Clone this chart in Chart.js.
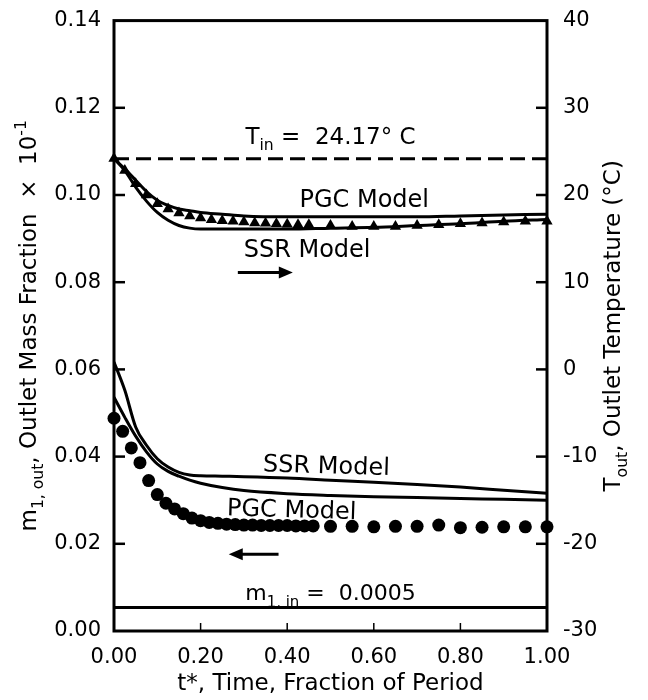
<!DOCTYPE html>
<html lang="en">
<head>
    <meta charset="UTF-8">
    <title>Outlet Mass Fraction and Temperature</title>
    <script src="https://cdn.jsdelivr.net/npm/chart.js"></script>
    <style>
        body {
            margin: 0;
            background-color: #fff;
        }
        #chartBox {
            width: 648px;
            height: 700px;
        }
    </style>
</head>
<body>
    <div id="chartBox">
        <canvas id="tempChart" width="648" height="700"></canvas>
    </div>

    <script>
        // time grid of the model curves (fraction of period)
        const tModel = [0, 0.025, 0.05, 0.075, 0.1, 0.125, 0.15, 0.175, 0.2, 0.25, 0.3, 0.4, 0.5, 0.6, 0.7, 0.8, 0.9, 1.0];

        // outlet mass fraction (x 10^-1), left axis
        const massSsr = [0.0617, 0.0552, 0.0468, 0.0426, 0.0395, 0.0376, 0.0364, 0.0358, 0.0356, 0.0355, 0.0354, 0.0351, 0.0346, 0.0341, 0.0336, 0.0330, 0.0323, 0.0316];
        const massPgc = [0.0536, 0.0490, 0.0447, 0.0411, 0.0383, 0.0366, 0.0355, 0.0346, 0.0339, 0.0329, 0.0322, 0.0315, 0.0311, 0.0308, 0.0306, 0.0304, 0.0302, 0.0300];

        // outlet temperature (deg C), right axis
        const tempPgc = [24.17, 23.0, 21.7, 20.4, 19.4, 18.8, 18.4, 18.2, 18.0, 17.8, 17.6, 17.5, 17.5, 17.5, 17.5, 17.6, 17.7, 17.8];
        const tempSsr = [24.17, 22.8, 20.9, 19.3, 18.0, 17.1, 16.5, 16.2, 16.1, 16.1, 16.1, 16.1, 16.2, 16.3, 16.5, 16.7, 17.0, 17.2];

        // measured mass fraction (dots)
        const tMassData = [0, 0.02, 0.04, 0.06, 0.08, 0.10, 0.12, 0.14, 0.16, 0.18, 0.20, 0.22, 0.24, 0.26, 0.28, 0.30, 0.32, 0.34, 0.36, 0.38, 0.40, 0.42, 0.44, 0.46,
                           0.50, 0.55, 0.60, 0.65, 0.70, 0.75, 0.80, 0.85, 0.90, 0.95, 1.00];
        const massData = [0.0488, 0.0458, 0.0420, 0.0386, 0.0345, 0.0313, 0.0293, 0.0280, 0.0269, 0.0259, 0.0253, 0.0249, 0.0247, 0.0245, 0.0244, 0.0243, 0.0243, 0.0242, 0.0242, 0.0242, 0.0242, 0.0241, 0.0241, 0.0241,
                          0.0240, 0.0240, 0.0239, 0.0240, 0.0240, 0.0243, 0.0237, 0.0238, 0.0239, 0.0239, 0.0239];

        // measured temperature (triangles)
        const tTempData = [0, 0.025, 0.05, 0.075, 0.1, 0.125, 0.15, 0.175, 0.2, 0.225, 0.25, 0.275, 0.3, 0.325, 0.35, 0.375, 0.4, 0.425, 0.45,
                           0.5, 0.55, 0.6, 0.65, 0.7, 0.75, 0.8, 0.85, 0.9, 0.95, 1.0];
        const tempData = [24.2, 22.8, 21.3, 20.0, 19.0, 18.4, 17.95, 17.6, 17.35, 17.15, 17.05, 17.0, 16.9, 16.8, 16.75, 16.7, 16.65, 16.6, 16.6,
                          16.5, 16.4, 16.4, 16.4, 16.5, 16.6, 16.7, 16.8, 16.9, 17.0, 17.0];

        // inlet conditions
        const tIn = 24.17;
        const mInLevel = 0.0054;   // m1,in = 0.0005 line as drawn on the x10^-1 axis
        const tSpan = [0, 1];

        const xTicks = [0, 0.2, 0.4, 0.6, 0.8, 1.0];
        const FONT = '"DejaVu Sans", sans-serif';

        const pts = (xs, ys) => xs.map((x, i) => ({ x: x, y: ys[i] }));

        function richText(ctx, parts, x, y, size, rot) {
            const fnt = s => s + 'px ' + FONT;
            let w = 0;
            parts.forEach(([t, k]) => {
                ctx.font = fnt(k ? size * 0.68 : size);
                w += ctx.measureText(t).width;
            });
            ctx.save();
            ctx.translate(x, y);
            ctx.rotate(rot || 0);
            ctx.textAlign = 'left';
            ctx.textBaseline = 'alphabetic';
            ctx.fillStyle = '#000';
            let cx = -w / 2;
            parts.forEach(([t, k]) => {
                const s = k ? size * 0.68 : size;
                ctx.font = fnt(s);
                const dy = k === 'sub' ? size * 0.3 : (k === 'sup' ? -size * 0.42 : 0);
                ctx.fillText(t, cx, dy);
                cx += ctx.measureText(t).width;
            });
            ctx.restore();
        }

        function arrow(ctx, x1, x2, y) {
            // head at x2
            const dir = Math.sign(x2 - x1);
            ctx.beginPath();
            ctx.moveTo(x1, y);
            ctx.lineTo(x2 - dir * 10, y);
            ctx.lineWidth = 3;
            ctx.stroke();
            ctx.beginPath();
            ctx.moveTo(x2, y);
            ctx.lineTo(x2 - dir * 14, y - 6);
            ctx.lineTo(x2 - dir * 14, y + 6);
            ctx.closePath();
            ctx.fill();
        }

        const decor = {
            id: 'decor',
            afterDatasetsDraw(chart) {
                const { ctx, chartArea: a, scales } = chart;
                const { x, y, y2 } = scales;
                ctx.save();
                ctx.strokeStyle = '#000';
                ctx.fillStyle = '#000';

                // frame
                ctx.lineWidth = 3;
                ctx.strokeRect(a.left, a.top, a.right - a.left, a.bottom - a.top);

                // inward ticks
                const seg = (x1, y1, x2, y2p) => { ctx.beginPath(); ctx.moveTo(x1, y1); ctx.lineTo(x2, y2p); ctx.stroke(); };
                ctx.lineWidth = 2.5;
                y.ticks.forEach(tk => {
                    if (tk.value <= y.min + 1e-9 || tk.value >= y.max - 1e-9) return;
                    const p = y.getPixelForValue(tk.value);
                    seg(a.left, p, a.left + 11, p);
                });
                y2.ticks.forEach(tk => {
                    if (tk.value <= y2.min || tk.value >= y2.max) return;
                    const p = y2.getPixelForValue(tk.value);
                    seg(a.right, p, a.right - 11, p);
                });
                ctx.lineWidth = 1.5;
                x.ticks.forEach(tk => {
                    if (tk.value <= x.min || tk.value >= x.max) return;
                    const p = x.getPixelForValue(tk.value);
                    seg(p, a.bottom, p, a.bottom - 8);
                });

                // annotations
                const X = v => x.getPixelForValue(v);
                const YL = v => y.getPixelForValue(v);
                const YR = v => y2.getPixelForValue(v);

                richText(ctx, [['T'], ['in', 'sub'], [' =  24.17° C']], X(0.5), YR(25.9), 23);
                richText(ctx, [['PGC Model']], X(0.578), YR(18.6), 24);
                richText(ctx, [['SSR Model']], X(0.446), YR(12.85), 24);
                arrow(ctx, X(0.286), X(0.413), YR(11.1));

                richText(ctx, [['SSR Model']], X(0.49), YL(0.0362), 24, 0.03);
                richText(ctx, [['PGC Model']], X(0.41), YL(0.0261), 24, 0.03);
                arrow(ctx, X(0.38), X(0.265), YL(0.0176));
                richText(ctx, [['m'], ['1, in', 'sub'], [' =  0.0005']], X(0.5), YL(0.0071), 22);

                // axis titles
                const cy = (a.top + a.bottom) / 2;
                richText(ctx, [['t*, Time, Fraction of Period']], (a.left + a.right) / 2, 690, 23);

                ctx.save();
                ctx.translate(36, cy);
                ctx.rotate(-Math.PI / 2);
                richText(ctx, [['m'], ['1, out', 'sub'], [', Outlet Mass Fraction  ×  10'], ['-1', 'sup']], 0, 0, 23);
                ctx.restore();

                ctx.save();
                ctx.translate(620, cy);
                ctx.rotate(-Math.PI / 2);
                richText(ctx, [['T'], ['out', 'sub'], [', Outlet Temperature (°C)']], 0, 0, 23);
                ctx.restore();

                ctx.restore();
            }
        };

        const lineStyle = {
            showLine: true,
            pointRadius: 0,
            borderColor: '#000',
            borderWidth: 3,
            cubicInterpolationMode: 'monotone',
            fill: false
        };

        const ctx = document.getElementById('tempChart').getContext('2d');

        const chart = new Chart(ctx, {
            type: 'scatter',
            data: {
                datasets: [
                    Object.assign({ label: 'SSR Model (mass)', data: pts(tModel, massSsr), yAxisID: 'y' }, lineStyle),
                    Object.assign({ label: 'PGC Model (mass)', data: pts(tModel, massPgc), yAxisID: 'y' }, lineStyle),
                    Object.assign({ label: 'PGC Model (temp)', data: pts(tModel, tempPgc), yAxisID: 'y2' }, lineStyle),
                    Object.assign({ label: 'SSR Model (temp)', data: pts(tModel, tempSsr), yAxisID: 'y2' }, lineStyle),
                    Object.assign({ label: 'Tin', data: pts(tSpan, [tIn, tIn]), yAxisID: 'y2' }, lineStyle, { borderDash: [15, 7], cubicInterpolationMode: 'default' }),
                    Object.assign({ label: 'm1,in', data: pts(tSpan, [mInLevel, mInLevel]), yAxisID: 'y' }, lineStyle, { cubicInterpolationMode: 'default' }),
                    {
                        label: 'measured mass fraction',
                        data: pts(tMassData, massData),
                        yAxisID: 'y',
                        pointStyle: 'circle',
                        pointRadius: 6.5,
                        backgroundColor: '#000',
                        borderColor: '#000',
                        borderWidth: 0,
                        clip: false
                    },
                    {
                        label: 'measured temperature',
                        data: pts(tTempData, tempData),
                        yAxisID: 'y2',
                        pointStyle: 'triangle',
                        pointRadius: 6.5,
                        backgroundColor: '#000',
                        borderColor: '#000',
                        borderWidth: 0,
                        clip: false
                    }
                ]
            },
            options: {
                responsive: false,
                animation: false,
                devicePixelRatio: 1,
                layout: { padding: { top: 20, left: 0, right: 0, bottom: 0 } },
                plugins: {
                    legend: { display: false },
                    tooltip: { enabled: false }
                },
                scales: {
                    x: {
                        type: 'linear',
                        min: 0,
                        max: 1,
                        afterBuildTicks: s => { s.ticks = xTicks.map(v => ({ value: v })); },
                        afterFit: s => { s.height = 69; },
                        grid: { display: false },
                        border: { display: false },
                        ticks: {
                            color: '#000',
                            padding: 6,
                            font: { family: FONT, size: 21 },
                            maxRotation: 0,
                            callback: v => v.toFixed(2)
                        }
                    },
                    y: {
                        position: 'left',
                        min: 0,
                        max: 0.14,
                        afterFit: s => { s.width = 114; },
                        grid: { display: false },
                        border: { display: false },
                        ticks: {
                            stepSize: 0.02,
                            color: '#000',
                            padding: 5,
                            font: { family: FONT, size: 21 },
                            callback: v => v.toFixed(2)
                        }
                    },
                    y2: {
                        position: 'right',
                        min: -30,
                        max: 40,
                        afterFit: s => { s.width = 101; },
                        grid: { display: false },
                        border: { display: false },
                        ticks: {
                            stepSize: 10,
                            color: '#000',
                            padding: 8,
                            font: { family: FONT, size: 21 }
                        }
                    }
                }
            },
            plugins: [decor]
        });
    </script>
</body>
</html>
